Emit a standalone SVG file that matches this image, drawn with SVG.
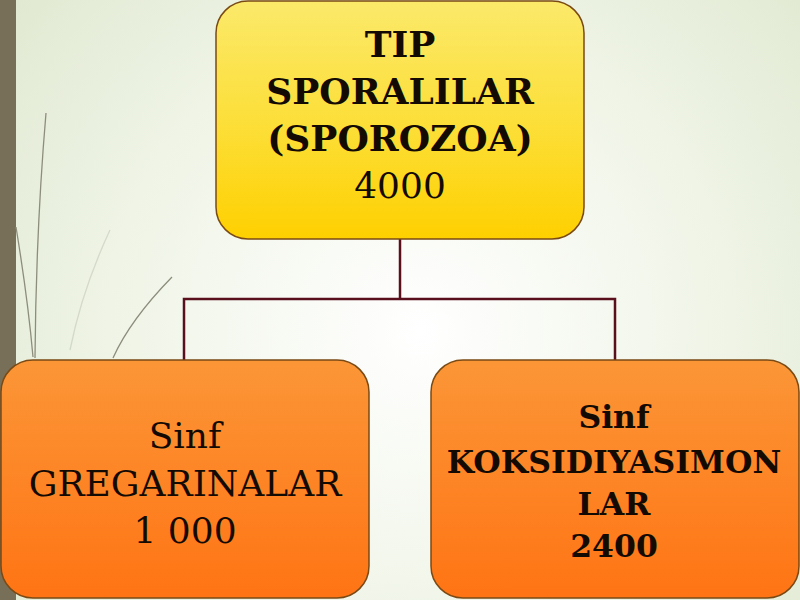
<svg xmlns="http://www.w3.org/2000/svg" width="800" height="600" viewBox="0 0 800 600">
<defs>
<radialGradient id="bg" cx="420" cy="330" r="520" gradientUnits="userSpaceOnUse">
<stop offset="0" stop-color="#ffffff"/>
<stop offset="0.6" stop-color="#eff4e6"/>
<stop offset="1" stop-color="#e1e9d2"/>
</radialGradient>
<linearGradient id="yel" x1="0" y1="0" x2="0" y2="1">
<stop offset="0" stop-color="#fbe96a"/>
<stop offset="0.5" stop-color="#fcdf3a"/>
<stop offset="1" stop-color="#fed000"/>
</linearGradient>
<linearGradient id="org" x1="0" y1="0" x2="0" y2="1">
<stop offset="0" stop-color="#fb9637"/>
<stop offset="1" stop-color="#ff7414"/>
</linearGradient>
<style>
.box{stroke:#7a4a14;stroke-width:1.5}
.t{font-family:"DejaVu Serif","Liberation Serif",serif;text-anchor:middle;fill:#140a04}
.b{font-weight:bold}
.conn{fill:none;stroke:#5a0f1c;stroke-width:2.5}
.grass{fill:none;stroke:#8d8d7c;stroke-width:1.3}
</style>
</defs>
<rect width="800" height="600" fill="url(#bg)"/>
<rect x="0" y="0" width="16" height="600" fill="#776f58"/>
<g id="grass">
<path class="grass" d="M46,113 Q36,230 35,358"/>
<path class="grass" d="M16,227 Q28,300 33,357"/>
<path class="grass" d="M110,230 Q82,290 70,350" stroke-opacity="0.25"/>
<path class="grass" d="M172,277 Q130,320 113,358"/>
</g>
<g id="connectors">
<path class="conn" d="M400,239 V299"/>
<path class="conn" d="M184,360 V299 H615 V360"/>
</g>
<g id="node-top">
<rect class="box" x="216" y="1" width="368" height="238" rx="32" fill="url(#yel)"/>
<text class="t b" x="400" y="57" font-size="36">TIP</text>
<text class="t b" x="400" y="104" font-size="36">SPORALILAR</text>
<text class="t b" x="400" y="151" font-size="36">(SPOROZOA)</text>
<text class="t" x="400" y="198" font-size="36">4000</text>
</g>
<g id="node-left">
<rect class="box" x="1" y="360" width="368" height="238" rx="32" fill="url(#org)"/>
<text class="t" x="185" y="448" font-size="36">Sinf</text>
<text class="t" x="185" y="496" font-size="36">GREGARINALAR</text>
<text class="t" x="185" y="543" font-size="36">1 000</text>
</g>
<g id="node-right">
<rect class="box" x="431" y="360" width="368" height="238" rx="32" fill="url(#org)"/>
<text class="t b" x="614" y="428" font-size="31.5">Sinf</text>
<text class="t b" x="614" y="473" font-size="31.5">KOKSIDIYASIMON</text>
<text class="t b" x="614" y="515" font-size="31.5">LAR</text>
<text class="t b" x="614" y="557" font-size="31.5">2400</text>
</g>
</svg>
